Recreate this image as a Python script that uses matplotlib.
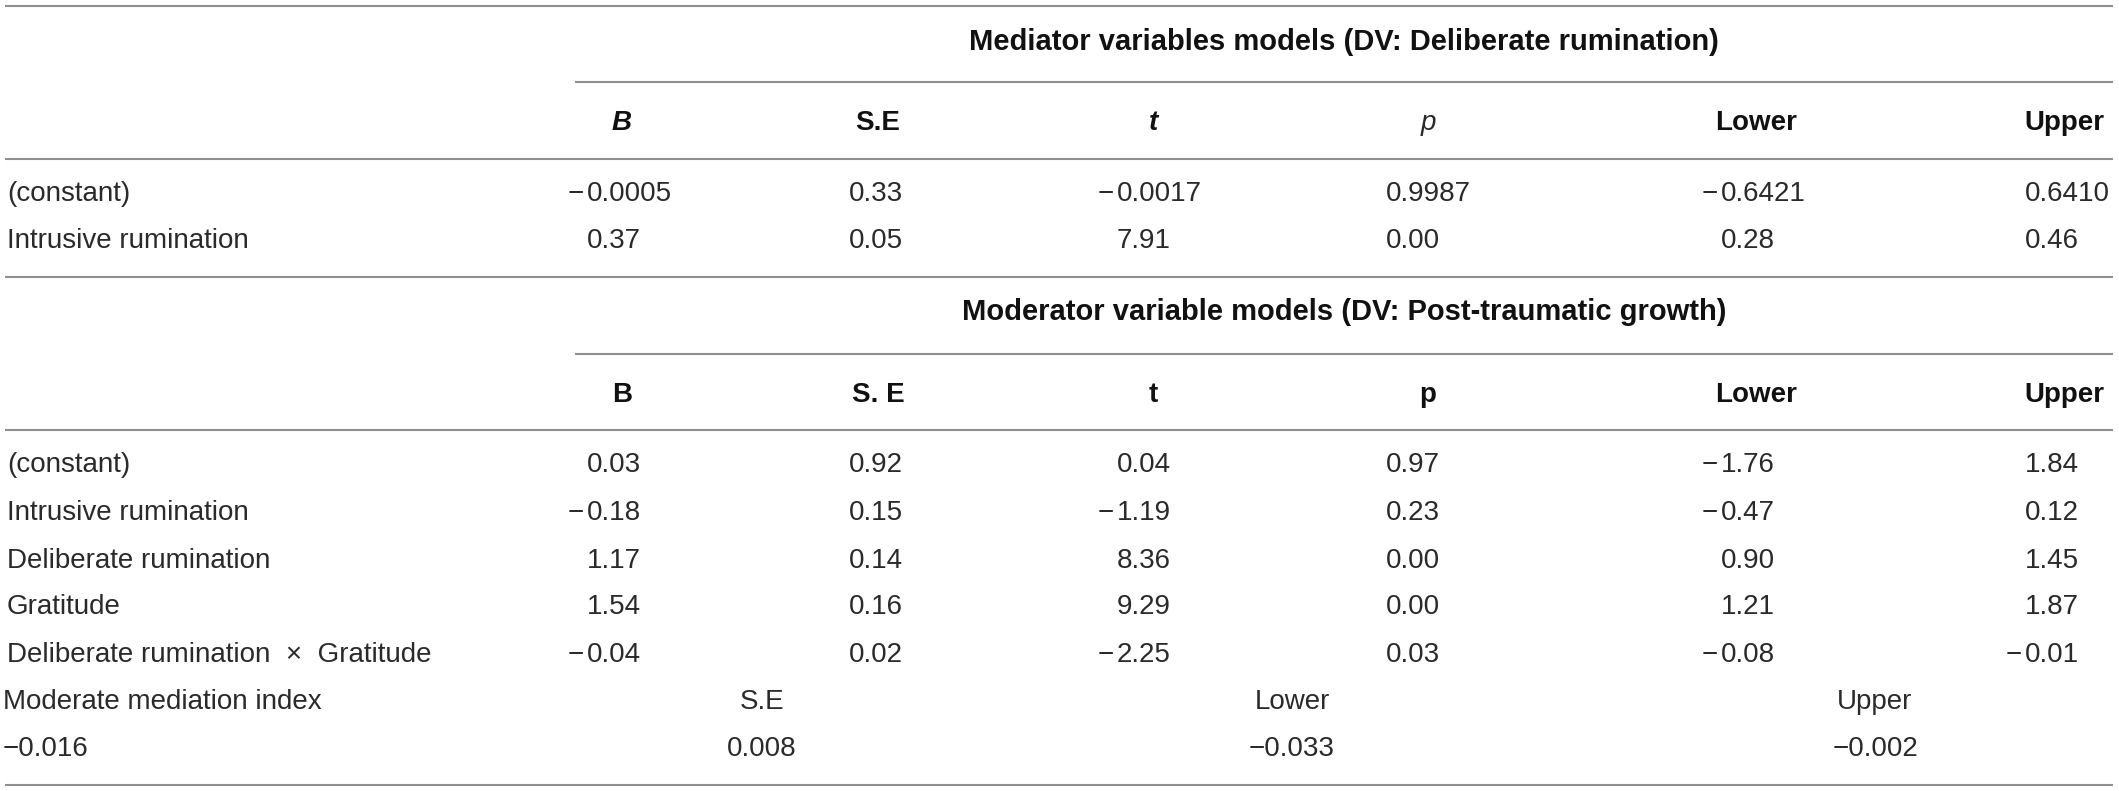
import matplotlib.pyplot as plt

# table content
med_title = "Mediator variables models (DV: Deliberate rumination)"
mod_title = "Moderator variable models (DV: Post-traumatic growth)"

med_headers = ["B", "S.E", "t", "p", "Lower", "Upper"]
mod_headers = ["B", "S. E", "t", "p", "Lower", "Upper"]

med_rows = ["(constant)", "Intrusive rumination"]
med_B = ["-0.0005", "0.37"]
med_SE = ["0.33", "0.05"]
med_t = ["-0.0017", "7.91"]
med_p = ["0.9987", "0.00"]
med_lower = ["-0.6421", "0.28"]
med_upper = ["0.6410", "0.46"]

mod_rows = ["(constant)", "Intrusive rumination", "Deliberate rumination",
            "Gratitude", "Deliberate rumination  \u00d7  Gratitude"]
mod_B = ["0.03", "-0.18", "1.17", "1.54", "-0.04"]
mod_SE = ["0.92", "0.15", "0.14", "0.16", "0.02"]
mod_t = ["0.04", "-1.19", "8.36", "9.29", "-2.25"]
mod_p = ["0.97", "0.23", "0.00", "0.00", "0.03"]
mod_lower = ["-1.76", "-0.47", "0.90", "1.21", "-0.08"]
mod_upper = ["1.84", "0.12", "1.45", "1.87", "-0.01"]

index_headers = ["Moderate mediation index", "S.E", "Lower", "Upper"]
index_values = ["-0.016", "0.008", "-0.033", "-0.002"]

W, H = 2119, 791
FONT = "Liberation Sans"
FS = 20
TXT = "#2a2a2a"
LINE = "#8f8f8f"

# layout (pixels)
header_x = [622, 878, 1153, 1428, 1756, 2064]
digit_x = [587, 849, 1117, 1386, 1721, 2025]
index_x = [762, 1292, 1875]
med_style = [("bold", "italic"), ("bold", "normal"), ("bold", "italic"),
             ("normal", "italic"), ("bold", "normal"), ("bold", "normal")]
mod_style = [("bold", "normal")] * 6

fig = plt.figure(figsize=(W / 100, H / 100), dpi=100)
ax = fig.add_axes([0, 0, 1, 1])
ax.set_xlim(0, W)
ax.set_ylim(H, 0)
ax.axis("off")


def put(x, y, s, ha="left", weight="normal", style="normal", color=TXT, fs=FS):
    ax.text(x, y, s, ha=ha, va="center", fontsize=fs, family=FONT,
            fontweight=weight, fontstyle=style, color=color)


def put_num(x, y, s):
    if s.startswith("-"):
        put(x - 3, y, "\u2212", ha="right")
        s = s[1:]
    put(x, y, s)


def section(title, y_title, headers, styles, y_head, rows, cols, y_rows):
    put(1344, y_title, title, ha="center", weight="bold", color="#111111", fs=21)
    for hx, h, (wt, st) in zip(header_x, headers, styles):
        put(hx, y_head, h, ha="center", weight=wt, style=st,
            color="#111111" if wt == "bold" else TXT)
    for i, (name, y) in enumerate(zip(rows, y_rows)):
        put(7, y, name)
        for dx, col in zip(digit_x, cols):
            put_num(dx, y, col[i])


section(med_title, 42, med_headers, med_style, 123, med_rows,
        [med_B, med_SE, med_t, med_p, med_lower, med_upper], [194, 241])
section(mod_title, 312, mod_headers, mod_style, 395, mod_rows,
        [mod_B, mod_SE, mod_t, mod_p, mod_lower, mod_upper],
        [465, 513, 561, 607, 655])

# moderated mediation index block
put(3, 702, index_headers[0])
put(3, 749, "\u2212" + index_values[0][1:])
for x, h, v in zip(index_x, index_headers[1:], index_values[1:]):
    put(x, 702, h, ha="center")
    put(x, 749, v.replace("-", "\u2212"), ha="center")

# rules
for y in [6, 159, 277, 430, 785]:
    ax.hlines(y, 5, 2113, color=LINE, lw=1.5)
for y in [82, 354]:
    ax.hlines(y, 575, 2113, color=LINE, lw=1.5)

fig.savefig("out.png", dpi=100)
